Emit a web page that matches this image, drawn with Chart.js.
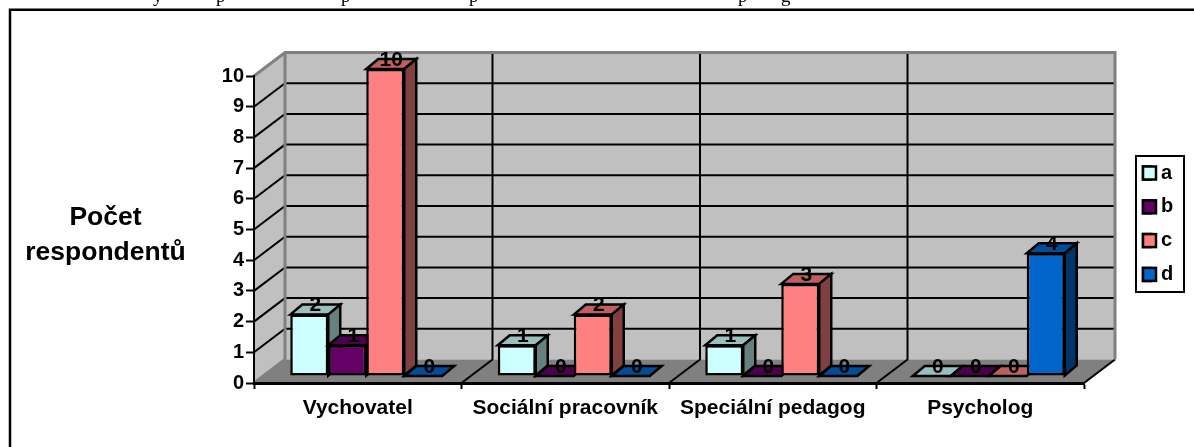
<!DOCTYPE html>
<html><head><meta charset="utf-8">
<style>html,body{margin:0;padding:0;background:#fff;overflow:hidden}#w{position:relative;width:1194px;height:447px}canvas{display:block}</style>
<script src="https://cdn.jsdelivr.net/npm/chart.js@4/dist/chart.umd.min.js"></script>
</head><body><div id="w"><canvas id="c" width="1194" height="447"></canvas></div>
<script>
const categories = ['Vychovatel','Sociální pracovník','Speciální pedagog','Psycholog'];
const seriesNames = ['a','b','c','d'];
const valuesA = [2,1,1,0];
const valuesB = [1,0,0,0];
const valuesC = [10,2,3,0];
const valuesD = [0,0,0,4];
const yTicks = [0,1,2,3,4,5,6,7,8,9,10];
const yTitleLines = ['Počet','respondentů'];
const captionBits = [['y',153],['p',216],['p',341],['p',469],['p',738],['g',781]];

const FILL = ['#CCFFFF','#660066','#FF8080','#0066CC'];
const TOP = ['#99BFBF','#4D004D','#BF6060','#004D99'];
const SIDE = ['#668080','#330033','#804040','#003366'];
const vals = [valuesA,valuesB,valuesC,valuesD];
const FAM = '"Liberation Sans", Arial, sans-serif';
const FONT = 'bold 21px ' + FAM;
const BX = 8.5, BY = -7, DX = 12, DY = 10;
const WX = 31, WY = 23.5;

function poly(ctx, pts, fill, stroke, lw){
  ctx.beginPath(); pts.forEach((p,i)=> i?ctx.lineTo(p[0],p[1]):ctx.moveTo(p[0],p[1])); ctx.closePath();
  if(fill){ctx.fillStyle=fill;ctx.fill();}
  if(stroke){ctx.strokeStyle=stroke;ctx.lineWidth=lw||2;ctx.lineJoin='miter';ctx.stroke();}
}
const scene = {
  id:'scene',
  afterLayout(chart){
    const l = chart.legend; if(!l) return;
    const w=l.width,h=l.height; l.left=1143-l.options.labels.padding; l.right=l.left+w; l.top=149.2; l.bottom=l.top+h;
  },
  beforeDraw(chart){
    const {ctx,scales:{x,y},chartArea:a} = chart;
    ctx.save();
    ctx.strokeStyle='#000'; ctx.lineWidth=2.5;
    ctx.beginPath(); ctx.moveTo(10,447); ctx.lineTo(10,9.7); ctx.lineTo(1194,9.7); ctx.stroke();
    ctx.fillStyle='#000'; ctx.font='19px "Liberation Serif", serif'; ctx.textBaseline='alphabetic'; ctx.textAlign='left';
    captionBits.forEach(([t,px])=>ctx.fillText(t,px,2));
    const L=a.left,R=a.right;
    const y0=y.getPixelForValue(0), yT=y.getPixelForValue(10);
    const bT=yT-WY, b0=y0-WY;
    poly(ctx,[[L,yT],[L+WX,bT],[L+WX,b0],[L,y0]],'#C0C0C0');
    poly(ctx,[[L+WX,bT],[R+WX,bT],[R+WX,b0],[L+WX,b0]],'#C0C0C0');
    poly(ctx,[[L,y0],[L+WX,b0],[R+WX,b0],[R,y0]],'#808080');
    ctx.strokeStyle='#000'; ctx.lineWidth=2;
    yTicks.forEach(v=>{ if(v===0||v===10) return;
      const f=y.getPixelForValue(v), b=f-WY;
      ctx.beginPath(); ctx.moveTo(L,f); ctx.lineTo(L+WX,b); ctx.lineTo(R+WX,b); ctx.stroke();
    });
    categories.forEach((c,i)=>{ if(i===0) return;
      const px=(x.getPixelForTick(i-1)+x.getPixelForTick(i))/2;
      ctx.beginPath(); ctx.moveTo(px,y0); ctx.lineTo(px+WX,b0); ctx.lineTo(px+WX,bT); ctx.stroke();
    });
    ctx.beginPath(); ctx.moveTo(R,y0); ctx.lineTo(R+WX,b0); ctx.stroke();
    ctx.strokeStyle='#808080'; ctx.lineWidth=3;
    ctx.beginPath(); ctx.moveTo(L,yT); ctx.lineTo(L+WX,bT); ctx.lineTo(R+WX,bT); ctx.lineTo(R+WX,b0); ctx.stroke();
    ctx.beginPath(); ctx.moveTo(L+WX,bT); ctx.lineTo(L+WX,b0); ctx.lineTo(L,y0); ctx.stroke();
    ctx.fillStyle='#000'; ctx.font='bold 26.5px '+FAM; ctx.textAlign='center';
    yTitleLines.forEach((t,i)=>ctx.fillText(t,105.5,225+i*35));
    ctx.strokeStyle='#000'; ctx.lineWidth=2; ctx.strokeRect(1136,156,48,136);
    ctx.restore();
  },
  beforeDatasetDraw(){ return false; },
  afterDatasetsDraw(chart){
    const ctx=chart.ctx;
    ctx.save(); ctx.translate(BX,BY);
    for(let s=0;s<vals.length;s++){
      const meta=chart.getDatasetMeta(s);
      meta.data.forEach(el=>{
        const {x,y,base,width}=el.getProps(['x','y','base','width'],true);
        const l=x-width/2,r=x+width/2;
        poly(ctx,[[l,y],[l+DX,y-DY],[r+DX,y-DY],[r,y]],TOP[s],'#000',2.5);
        if(base-y>0.5){
          poly(ctx,[[r,y],[r+DX,y-DY],[r+DX,base-DY],[r,base]],SIDE[s],'#000',2.5);
          el.draw(ctx);
        }
      });
    }
    ctx.fillStyle='#000'; ctx.font=FONT; ctx.textAlign='center'; ctx.textBaseline='middle';
    for(let s=0;s<vals.length;s++){
      chart.getDatasetMeta(s).data.forEach((el,i)=>{
        ctx.fillText(String(vals[s][i]),el.x+DX/2,el.y-DY+1);
      });
    }
    ctx.restore();
  },
  afterDraw(chart){
    // legend swatches are 15px wide while the label sits close to them
    const ctx=chart.ctx, l=chart.legend;
    ctx.save();
    l.legendItems.forEach((it,i)=>{
      const h=l.legendHitBoxes[i], cy=h.top+h.height/2;
      ctx.fillStyle=it.fillStyle; ctx.strokeStyle='#000'; ctx.lineWidth=2.5;
      ctx.fillRect(1143,cy-6.5,13,13); ctx.strokeRect(1143,cy-6.5,13,13);
    });
    ctx.restore();
  }
};
const chart = new Chart(document.getElementById('c'),{
  type:'bar',
  data:{labels:categories,datasets:seriesNames.map((n,i)=>({
    label:n,data:vals[i],backgroundColor:FILL[i],borderColor:'#000',borderWidth:2.5,borderSkipped:false,
    barPercentage:1,categoryPercentage:0.7325
  }))},
  options:{
    responsive:false,animation:false,
    layout:{padding:{left:200,right:0,top:76,bottom:0}},
    events:[],
    plugins:{
      tooltip:{enabled:false},title:{display:false},
      legend:{display:true,position:'right',align:'start',
        labels:{boxWidth:8,boxHeight:13,padding:13.8,color:'#000',font:{family:FAM,size:20,weight:'bold'}}}
    },
    scales:{
      x:{offset:true,
        afterFit(s){s.height=64;},
        grid:{drawOnChartArea:false,drawTicks:true,tickLength:6,tickColor:'#000',tickWidth:2,offset:true},
        border:{color:'#000',width:3},
        ticks:{autoSkip:false,maxRotation:0,color:'#000',padding:6.5,font:{family:FAM,size:21,weight:'bold'}}},
      y:{min:0,max:10,
        afterFit(s){s.width=54;},
        afterBuildTicks(s){s.ticks=yTicks.map(v=>({value:v}));},
        grid:{drawOnChartArea:false,drawTicks:true,tickLength:8,tickColor:'#000',tickWidth:2},
        border:{color:'#000',width:2},
        ticks:{color:'#000',padding:2,font:{family:FAM,size:20,weight:'bold'}}}
    }
  },
  plugins:[scene]
});
chart.options.layout.padding.right = 1194-1084-chart.legend.width;
chart.update();
</script></body></html>
